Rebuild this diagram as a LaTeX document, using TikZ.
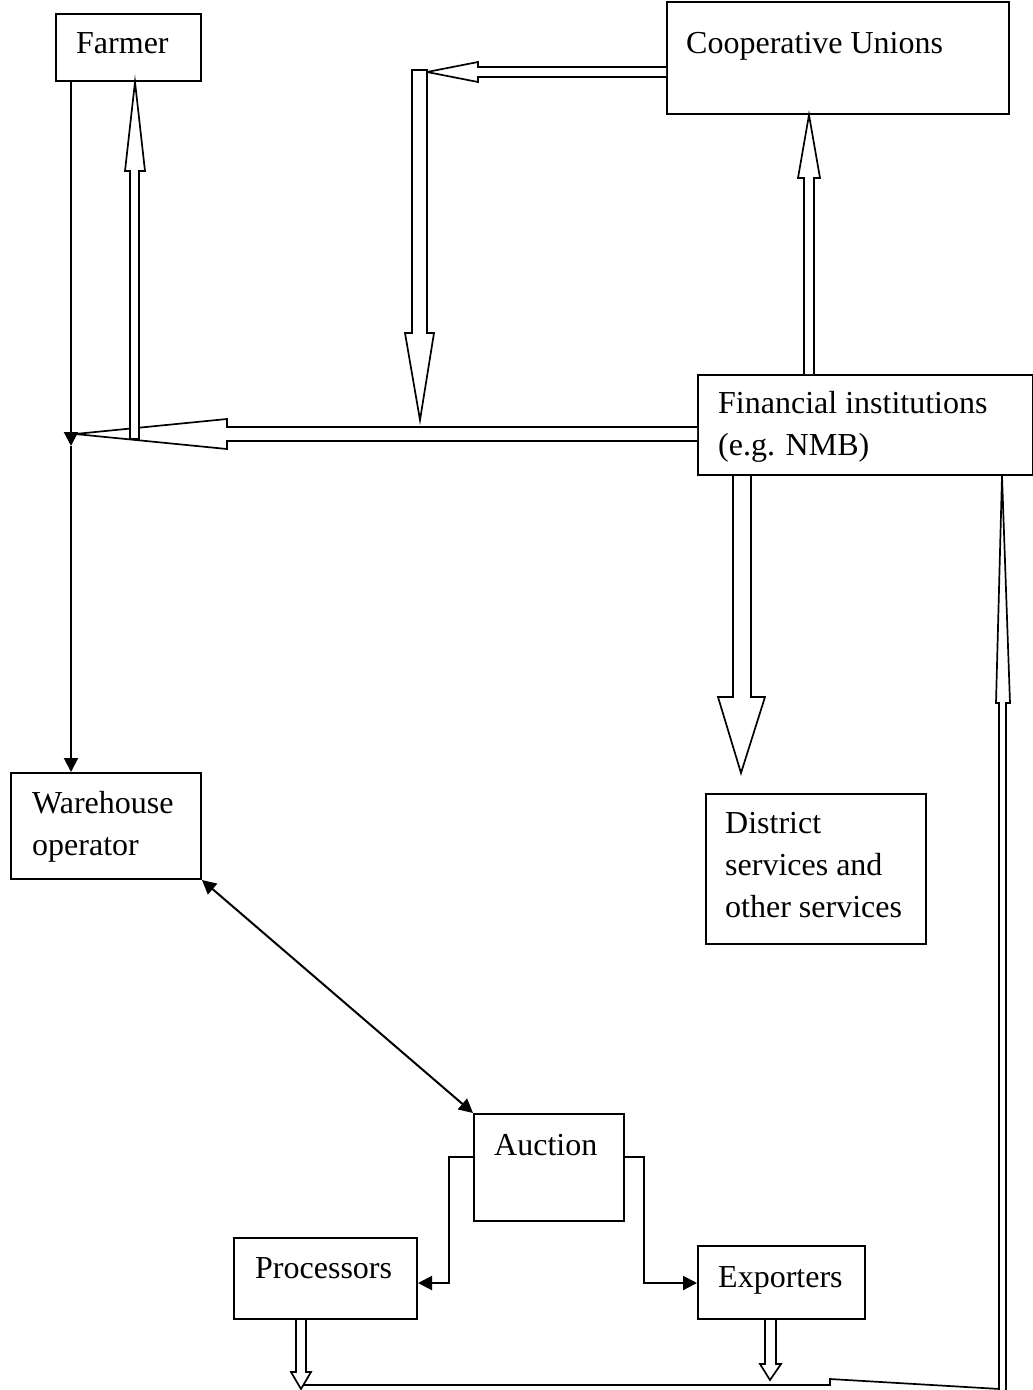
\documentclass[tikz,border=0pt]{standalone}
\usepackage{fontspec}
\setmainfont{Liberation Serif}
\usetikzlibrary{arrows.meta}
\begin{document}
\begin{tikzpicture}[x=1pt,y=-1pt,
  box/.style={draw, line width=2pt, inner sep=0, anchor=north west},
  lbl/.style={inner sep=0, anchor=base west, font=\fontsize{32}{42}\selectfont},
  blk/.style={draw, fill=white, line width=1.7pt, line join=miter},
  con/.style={line width=2pt},
  tip/.style={-{Triangle[length=14pt,width=14pt]}},
  tips/.style={{Triangle[length=14pt,width=14pt]}-{Triangle[length=14pt,width=14pt]}}]
\useasboundingbox (0,0) rectangle (1033,1390);

% boxes
\node[box, minimum width=145, minimum height=67]  (farmer)  at (55,13) {};
\node[box, minimum width=342, minimum height=112] (coop)    at (666,1) {};
\node[box, minimum width=335, minimum height=100] (fin)     at (697,374) {};
\node[box, minimum width=190, minimum height=106] (ware)    at (10,772) {};
\node[box, minimum width=220, minimum height=150] (dist)    at (705,793) {};
\node[box, minimum width=150, minimum height=107] (auction) at (473,1113) {};
\node[box, minimum width=183, minimum height=81]  (proc)    at (233,1237) {};
\node[box, minimum width=167, minimum height=73]  (exp)     at (697,1245) {};

% labels
\node[lbl] (tfarmer) at (76,53)   {Farmer};
\node[lbl] (tcoop)   at (686,53)  {Cooperative Unions};
\node[lbl] (tfin1)   at (718,413) {Financial institutions};
\node[lbl] (tfin2)   at (718,455) {(e.g. NMB)};
\node[lbl] (tware1)  at (32,813)  {Warehouse};
\node[lbl] (tware2)  at (32,855)  {operator};
\node[lbl] (tdist1)  at (725,833) {District};
\node[lbl] (tdist2)  at (725,875) {services and};
\node[lbl] (tdist3)  at (725,917) {other services};
\node[lbl] (tauc)    at (494,1155) {Auction};
\node[lbl] (tproc)   at (255,1278) {Processors};
\node[lbl] (texp)    at (718,1287) {Exporters};

% farmer -> junction -> warehouse operator
\coordinate (jn) at (71,446);
\draw[con,tip] (farmer.south -| jn) -- (jn);
\draw[con,tip] (jn) -- (ware.north -| jn);

% financial institutions -> junction (hollow block arrow)
\draw[blk] (fin.west |- 0,427) -- (227,427) -- (227,419) -- (75,434)
           -- (227,449) -- (227,441) -- (fin.west |- 0,441);
% junction -> farmer
\draw[blk] (130,439) -- (130,171) -- (125,171) -- (135,80 |- farmer.south)
           -- (145,171) -- (139,171) -- (139,439) -- cycle;

% cooperative unions -> down towards the loan line
\draw[blk] (coop.west |- 0,67) -- (478,67) -- (478,62) -- (427,72)
           -- (478,82) -- (478,77) -- (coop.west |- 0,77);
\draw[blk] (412,70) -- (412,333) -- (405,333) -- (420,420)
           -- (434,333) -- (427,333) -- (427,70) -- cycle;

% financial institutions -> cooperative unions
\draw[blk] (804,0 |- fin.north) -- (804,178) -- (798,178) -- (809,0 |- coop.south)
           -- (820,178) -- (814,178) -- (814,0 |- fin.north);

% financial institutions -> district services
\draw[blk] (733,0 |- fin.south) -- (733,697) -- (718,697) -- (741,773)
           -- (765,697) -- (751,697) -- (751,0 |- fin.south);

% processors and exporters -> repayment line
\draw[blk] (296,0 |- proc.south) -- (296,1372) -- (291,1372) -- (301,1389)
           -- (311,1372) -- (306,1372) -- (306,0 |- proc.south);
\draw[blk] (765,0 |- exp.south) -- (765,1364) -- (760,1364) -- (770,1380)
           -- (781,1364) -- (776,1364) -- (776,0 |- exp.south);
\coordinate (bl) at (303,1385);
\coordinate (br) at (1000,1389);
\draw[line width=1.7pt] (bl) -- (830,1385) -- (830,1379) -- (br);

% repayment line -> financial institutions
\draw[blk] (999,1392) -- (999,703) -- (996,703) -- (1002,0 |- fin.south)
           -- (1010,703) -- (1006,703) -- (1006,1392);

% warehouse operator <-> auction
\draw[con,tips] (ware.south east) -- (auction.north west);

% auction -> processors / exporters
\draw[con,tip] (auction.west |- 0,1157) -- (449,1157) -- (449,1283) -- (proc.east |- 0,1283);
\draw[con,tip] (auction.east |- 0,1157) -- (644,1157) -- (644,1283) -- (exp.west |- 0,1283);
\end{tikzpicture}
\end{document}
